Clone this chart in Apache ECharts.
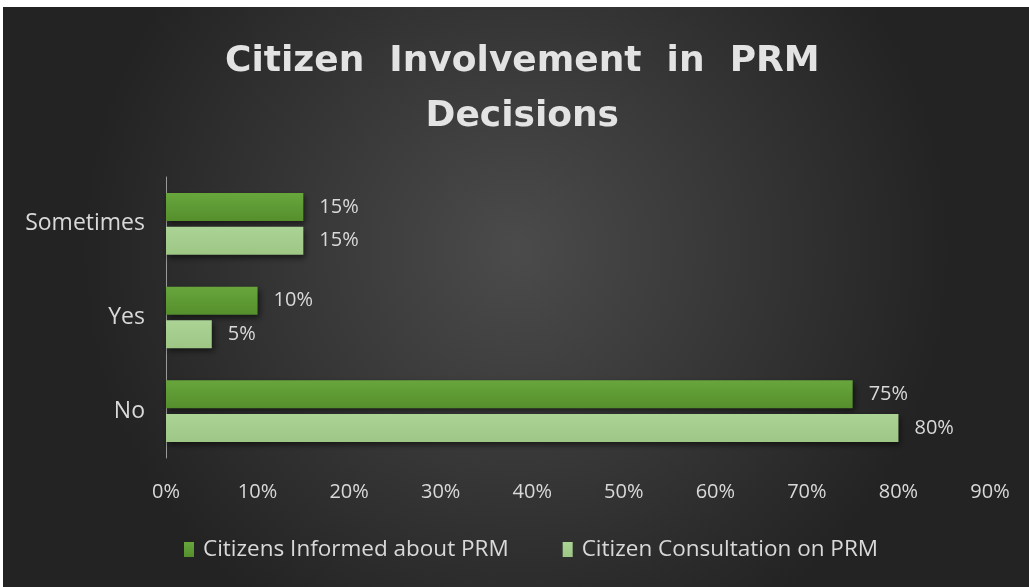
<!DOCTYPE html>
<html>
<head>
<meta charset="utf-8">
<script src="https://cdn.jsdelivr.net/npm/echarts@6/dist/echarts.min.js"></script>
<style>
  html, body { margin: 0; padding: 0; background: #fff; }
  #main { position: absolute; left: 3px; top: 7px; width: 1026px; height: 580px; }
</style>
</head>
<body>
<div id="main"></div>
<script>
// categories bottom to top, like the picture
const categories = ['No', 'Yes', 'Sometimes']
const informed = [75, 10, 15]
const consultation = [80, 5, 15]
const seriesNames = ['Citizens Informed about PRM', 'Citizen Consultation on PRM']
const axisMax = 90
const axisStep = 10

const chart = echarts.init(document.getElementById('main'))
const labelFont = '"Open Sans", "Noto Sans", sans-serif'

function barSeries(name, data, top, bottom) {
  return {
    name: name,
    type: 'bar',
    data: data,
    barWidth: 28,
    barGap: '20%',
    itemStyle: {
      color: new echarts.graphic.LinearGradient(0, 0, 0, 1, [
        { offset: 0, color: top },
        { offset: 1, color: bottom }
      ]),
      shadowColor: 'rgba(0,0,0,0.55)',
      shadowBlur: 6,
      shadowOffsetX: 2,
      shadowOffsetY: 3
    },
    label: {
      show: true,
      position: 'right',
      distance: 16,
      formatter: '{c}%',
      color: '#d9d9d9',
      fontSize: 20,
      fontFamily: labelFont
    }
  }
}

const option = {
  backgroundColor: new echarts.graphic.RadialGradient(0.5, 0.42, 0.75, [
    { offset: 0, color: '#4b4b4b' },
    { offset: 1, color: '#232323' }
  ]),
  title: {
    text: ' Citizen  Involvement  in  PRM\n Decisions',
    left: 'center',
    top: 22,
    textStyle: {
      color: '#e3e3e3',
      fontSize: 36,
      fontWeight: 'bold',
      lineHeight: 55,
      fontFamily: '"DejaVu Sans", sans-serif'
    }
  },
  legend: {
    data: seriesNames,
    bottom: 21,
    left: 176,
    itemWidth: 10,
    itemHeight: 15,
    itemGap: 54,
    icon: 'rect',
    textStyle: { color: '#d9d9d9', fontSize: 22.5, fontFamily: labelFont, padding: [0, 0, 0, 4] }
  },
  grid: { left: 163, right: 39, top: 170, bottom: 129 },
  xAxis: {
    type: 'value',
    min: 0,
    max: axisMax,
    interval: axisStep,
    axisLine: { show: false },
    axisTick: { show: false },
    splitLine: { show: false },
    axisLabel: {
      margin: 24,
      color: '#d9d9d9',
      fontSize: 20,
      fontFamily: labelFont,
      formatter: '{value}%'
    }
  },
  yAxis: {
    type: 'category',
    data: categories,
    axisLine: { show: true, lineStyle: { color: '#9a9a9a', width: 1 } },
    axisTick: { show: false },
    axisLabel: { margin: 21, color: '#d9d9d9', fontSize: 23, fontFamily: labelFont }
  },
  series: [
    barSeries(seriesNames[0], informed, '#68a63c', '#558f2d'),
    barSeries(seriesNames[1], consultation, '#abd395', '#9ec685')
  ]
}

chart.setOption(option)
</script>
</body>
</html>
